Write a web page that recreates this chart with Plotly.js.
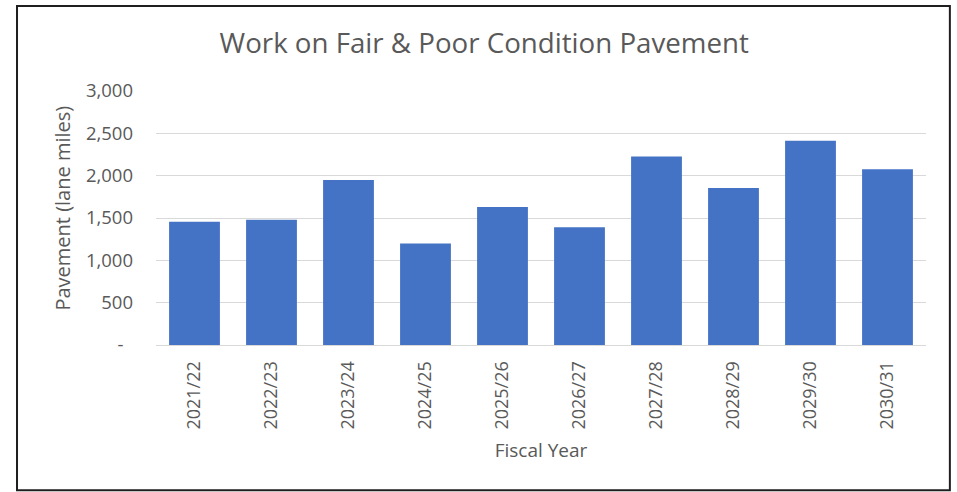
<!DOCTYPE html>
<html>
<head>
<meta charset="utf-8">
<script src="https://cdn.plot.ly/plotly-3.0.1.min.js"></script>
<style>
html,body{margin:0;padding:0;background:#fff;}
#chart{width:957px;height:492px;}
</style>
</head>
<body>
<div id="chart"></div>
<script>
const fiscalYears = ["2021/22","2022/23","2023/24","2024/25","2025/26","2026/27","2027/28","2028/29","2029/30","2030/31"];
const laneMiles = [1455, 1478, 1950, 1199, 1631, 1391, 2225, 1855, 2413, 2075];
const yTickVals = [0, 500, 1000, 1500, 2000, 2500, 3000];
const yTickText = ["-\u00a0\u00a0", "500", "1,000", "1,500", "2,000", "2,500", "3,000"];

const textColor = "#595959";
const fontFamily = "'Open Sans', 'Noto Sans', sans-serif";

const trace = {
  type: "bar",
  x: fiscalYears,
  y: laneMiles,
  marker: {color: "#4472C4", line: {color: "#ffffff", width: 0}},
  hoverinfo: "x+y"
};

const layout = {
  width: 957,
  height: 492,
  margin: {l: 156, r: 31, t: 91, b: 147, pad: 0},
  paper_bgcolor: "#ffffff",
  plot_bgcolor: "#ffffff",
  bargap: 0.34,
  showlegend: false,
  font: {family: fontFamily, color: textColor},
  title: {
    text: "Work on Fair & Poor Condition Pavement",
    font: {family: fontFamily, size: 27.7, color: textColor},
    x: 0.506, xref: "container", xanchor: "center",
    y: 0.912, yref: "container", yanchor: "middle"
  },
  xaxis: {
    type: "category",
    tickangle: -90,
    tickfont: {family: fontFamily, size: 18, color: textColor},
    showline: true, linecolor: "#d9d9d9", linewidth: 1,
    ticks: "", ticklabelstandoff: 8,
    showgrid: false, zeroline: false,
    title: {text: "Fiscal Year", font: {family: fontFamily, size: 19, color: textColor}, standoff: 15}
  },
  yaxis: {
    range: [0, 3000],
    tickvals: yTickVals,
    ticktext: yTickText,
    tickfont: {family: fontFamily, size: 18.5, color: textColor},
    showgrid: true, gridcolor: "#d9d9d9", gridwidth: 1,
    zeroline: false, showline: false,
    ticks: "", ticklabelstandoff: 22
  },
  annotations: [{
    text: "Pavement (lane miles)",
    xref: "paper", yref: "paper",
    x: -0.1208, y: 0.541,
    xanchor: "center", yanchor: "middle",
    textangle: -90, showarrow: false,
    font: {family: fontFamily, size: 20, color: textColor}
  }],
  shapes: [{
    type: "rect", xref: "paper", yref: "paper",
    x0: -0.1805, x1: 1.031, y0: -0.572, y1: 1.335,
    line: {color: "#1f1f1f", width: 2}, fillcolor: "rgba(0,0,0,0)", layer: "above"
  }]
};

Plotly.newPlot("chart", [trace], layout, {displayModeBar: false, staticPlot: true});
</script>
</body>
</html>
